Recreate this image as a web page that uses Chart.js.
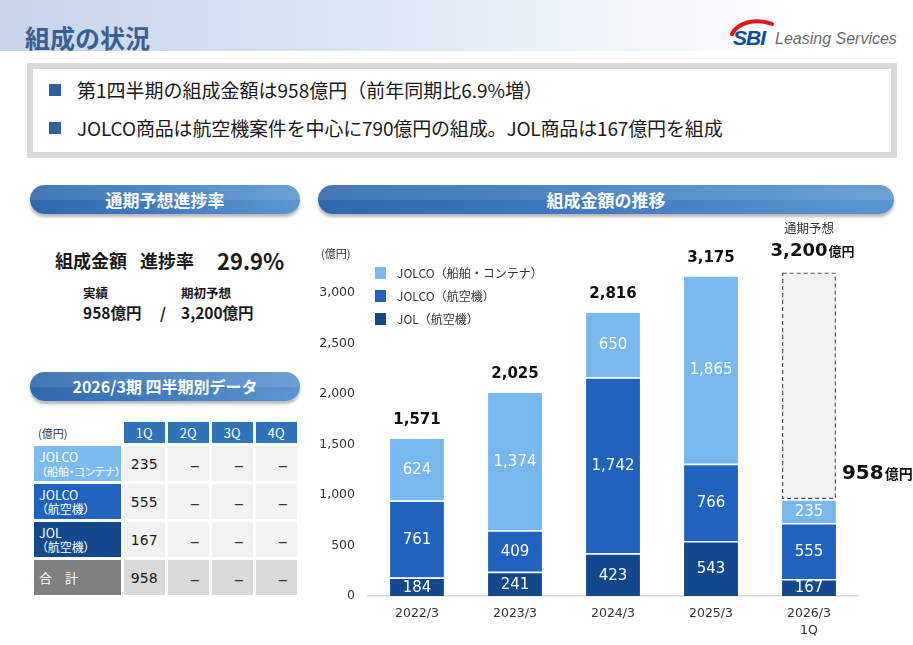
<!DOCTYPE html>
<html lang="ja">
<head>
<meta charset="utf-8">
<script src="https://cdn.jsdelivr.net/npm/chart.js@4.4.1/dist/chart.umd.min.js"></script>
<style>
  html,body{margin:0;padding:0;background:#fff;}
  body{width:913px;height:645px;position:relative;overflow:hidden;font-family:"Noto Sans CJK JP","Noto Sans",sans-serif;color:#1a1a1a;}
  .a{position:absolute;white-space:nowrap;}
  .pill{position:absolute;border-radius:15px;color:#fff;font-weight:bold;text-align:center;
        background:linear-gradient(to right,#2f69ad 0%,#3f7bc0 45%,#5c95d0 100%);
        box-shadow:0 3px 3px rgba(0,0,0,0.28);}
  .pill:before{content:"";position:absolute;left:0;right:0;top:0;height:50%;border-radius:15px 15px 0 0;background:rgba(255,255,255,0.10);}
  table.q{position:absolute;left:31px;top:419px;border-collapse:separate;border-spacing:3px;}
  table.q td{padding:0;font-size:13px;white-space:nowrap;}
  .l1{font-size:12.5px;line-height:15px;}
  .l2{font-size:11px;line-height:14px;font-feature-settings:'palt';}
</style>
</head>
<body>
<!-- header band -->
<div class="a" style="left:0;top:0;width:913px;height:51px;background:linear-gradient(to right,#c6d5e9 0%,#d9e4f1 35%,#eef3f9 65%,#ffffff 88%);"></div>
<div class="a" style="left:25px;top:22px;height:30px;line-height:30px;font-size:25px;font-weight:bold;color:#3b5f93;">組成の状況</div>
<!-- logo -->
<svg class="a" style="left:726px;top:16px;" width="60" height="20" viewBox="0 0 60 20">
  <path d="M6 18 C 12 6, 30 2, 46 8" stroke="#e3141b" stroke-width="4" fill="none" stroke-linecap="round"/>
</svg>
<div class="a" style="left:733px;top:26px;height:24px;line-height:24px;font-family:'Liberation Sans',Arial,sans-serif;font-size:21px;font-weight:bold;font-style:italic;color:#0d4da1;letter-spacing:-1px;">SBI</div>
<div class="a" style="left:775px;top:27px;height:24px;line-height:24px;font-family:'Liberation Sans',Arial,sans-serif;font-size:16px;font-style:italic;color:#6b6b6b;">Leasing Services</div>

<!-- summary box -->
<div class="a" style="left:27px;top:63px;width:870px;height:95px;box-sizing:border-box;border:6px solid #d9d9d9;background:#fff;"></div>
<div class="a" style="left:49px;top:84px;width:12px;height:12px;background:#2f5f9f;"></div>
<div class="a" style="left:77px;top:78px;height:24px;line-height:24px;font-size:19px;">第1四半期の組成金額は958億円（前年同期比6.9%増）</div>
<div class="a" style="left:49px;top:122px;width:12px;height:12px;background:#2f5f9f;"></div>
<div class="a" style="left:77px;top:116px;height:24px;line-height:24px;font-size:19px;letter-spacing:-0.15px;">JOLCO商品は航空機案件を中心に790億円の組成。JOL商品は167億円を組成</div>

<!-- pills -->
<div class="pill" style="left:30px;top:185px;width:270px;height:29px;line-height:29px;font-size:17px;">通期予想進捗率</div>
<div class="pill" style="left:318px;top:185px;width:576px;height:29px;line-height:29px;font-size:17px;">組成金額の推移</div>
<div class="pill" style="left:30px;top:372px;width:270px;height:29px;line-height:29px;font-size:16px;">2026/3期 四半期別データ</div>

<!-- progress block -->
<div class="a" style="left:55px;top:247px;height:26px;line-height:26px;font-size:18px;font-weight:bold;">組成金額</div>
<div class="a" style="left:140px;top:247px;height:26px;line-height:26px;font-size:18px;font-weight:bold;">進捗率</div>
<div class="a" id="rate" style="left:217px;top:246px;height:28px;line-height:28px;font-size:22px;font-weight:bold;"></div>
<div class="a" style="left:83px;top:284px;height:18px;line-height:18px;font-size:12.5px;font-weight:bold;">実績</div>
<div class="a" style="left:181px;top:284px;height:18px;line-height:18px;font-size:12.5px;font-weight:bold;">期初予想</div>
<div class="a" id="act" style="left:83px;top:301px;height:22px;line-height:22px;font-size:15.5px;font-weight:bold;"></div>
<div class="a" style="left:160px;top:301px;height:22px;line-height:22px;font-size:15.5px;font-weight:bold;">/</div>
<div class="a" id="plan" style="left:181px;top:301px;height:22px;line-height:22px;font-size:15.5px;font-weight:bold;"></div>

<!-- quarterly table -->
<table class="q" id="qt"></table>

<!-- chart -->
<canvas id="c" class="a" style="left:300px;top:222px;" width="613" height="423"></canvas>

<!-- chart legend & unit -->
<div class="a" style="left:321px;top:245px;height:16px;line-height:16px;font-size:11px;color:#333;">(億円)</div>
<div id="leg"></div>

<script>
// ---------- data ----------
const categories = ['2022/3', '2023/3', '2024/3', '2025/3', ['2026/3', '1Q']];
const seriesNames = ['JOL（航空機）', 'JOLCO（航空機）', 'JOLCO（船舶・コンテナ）'];
const jol       = [184, 241, 423, 543, 167];
const jolcoAir  = [761, 409, 1742, 766, 555];
const jolcoShip = [624, 1374, 650, 1865, 235];
const totals    = [1571, 2025, 2816, 3175, 958];
const forecastTotal = 3200;
const progressRate = '29.9%';
const yTickValues = [0, 500, 1000, 1500, 2000, 2500, 3000];
const quarterLabels = ['1Q', '2Q', '3Q', '4Q'];

// ---------- styles ----------
const colors = ['#13488c', '#1f63be', '#77b8ef'];
const fmt = v => v.toLocaleString('en-US');
const NUM = '"DejaVu Sans", "Noto Sans CJK JP", sans-serif';
const JP = '"Noto Sans CJK JP", sans-serif';

// ---------- left panel text ----------
document.getElementById('rate').textContent = progressRate;
document.getElementById('act').textContent = fmt(totals[4]) + '億円';
document.getElementById('plan').textContent = fmt(forecastTotal) + '億円';

// table
(function(){
  const t = document.getElementById('qt');
  let h = '<tr><td style="width:81px;height:21px;font-size:11px;color:#333;vertical-align:middle;padding-left:4px;">(億円)</td>';
  quarterLabels.forEach(q => h += '<td style="width:41px;height:21px;background:#2f74bb;color:#fff;text-align:center;font-size:13px;">' + q + '</td>');
  h += '</tr>';
  const rows = [
    {l:'<div class="l1">JOLCO</div><div class="l2">&nbsp;（船舶・コンテナ）</div>', bg:'#7bbcf0', v:jolcoShip[4], cell:'#f2f2f2'},
    {l:'<div class="l1">JOLCO</div><div class="l2" style="font-size:12px;">&nbsp;（航空機）</div>', bg:'#1f63be', v:jolcoAir[4], cell:'#f2f2f2'},
    {l:'<div class="l1">JOL</div><div class="l2" style="font-size:12px;">&nbsp;（航空機）</div>', bg:'#13488c', v:jol[4], cell:'#f2f2f2'},
    {l:'<div class="l1" style="font-size:13px;">合　計</div>', bg:'#808080', v:totals[4], cell:'#d9d9d9'}
  ];
  rows.forEach(r => {
    h += '<tr><td style="height:35px;background:' + r.bg + ';color:#fff;padding-left:5px;">' + r.l + '</td>';
    h += '<td style="background:' + r.cell + ';text-align:center;font-size:14px;font-family:' + NUM.replace(/"/g,"'") + ';">' + fmt(r.v) + '</td>';
    for (let k = 1; k < 4; k++) h += '<td style="background:' + r.cell + ';text-align:right;padding-right:9px;font-size:18px;color:#333;width:32px;">–</td>';
    h += '</tr>';
  });
  t.innerHTML = h;
})();

// legend
(function(){
  const leg = document.getElementById('leg');
  const order = [2, 1, 0];
  const ys = [273, 296, 319];
  let h = '';
  order.forEach((si, k) => {
    h += '<div class="a" style="left:375px;top:' + (ys[k]-6) + 'px;width:11px;height:12px;background:' + colors[si] + ';"></div>';
    h += '<div class="a" style="left:397px;top:' + (ys[k]-9) + 'px;height:18px;line-height:18px;font-size:12px;color:#333;">' + seriesNames[si] + '</div>';
  });
  leg.innerHTML = h;
})();

// ---------- chart ----------
const forecastRemain = categories.map((c, i) => i === categories.length - 1 ? forecastTotal - totals[i] : null);

const labelPlugin = {
  id: 'customLabels',
  afterDatasetsDraw(chart) {
    const ctx = chart.ctx;
    ctx.save();
    // forecast dashed box
    const fe = chart.getDatasetMeta(3).data[4];
    const half = fe.width / 2;
    ctx.setLineDash([4, 3]);
    ctx.strokeStyle = '#555';
    ctx.lineWidth = 1.2;
    ctx.strokeRect(fe.x - half + 0.6, fe.y + 0.6, fe.width - 1.2, fe.base - fe.y - 1.5);
    ctx.setLineDash([]);

    // segment labels
    ctx.textAlign = 'center';
    ctx.textBaseline = 'middle';
    ctx.fillStyle = '#fff';
    ctx.font = '15px ' + NUM;
    [0, 1, 2].forEach(di => {
      chart.getDatasetMeta(di).data.forEach((el, i) => {
        const v = chart.data.datasets[di].data[i];
        if (v == null) return;
        ctx.fillText(fmt(v), el.x, (el.y + el.base) / 2 + 1);
      });
    });
    // totals
    ctx.fillStyle = '#111';
    ctx.font = 'bold 15px ' + NUM;
    const topMeta = chart.getDatasetMeta(2);
    totals.forEach((t, i) => {
      if (i === totals.length - 1) return;
      const el = topMeta.data[i];
      ctx.fillText(fmt(t), el.x, el.y - 17);
    });

    // forecast annotations
    const drawPair = (num, numFont, unitFont, x, y, align) => {
      ctx.font = numFont; const w1 = ctx.measureText(num).width;
      ctx.font = unitFont; const w2 = ctx.measureText('億円').width;
      let sx = align === 'center' ? x - (w1 + w2) / 2 : x;
      ctx.textAlign = 'left';
      ctx.textBaseline = 'alphabetic';
      ctx.font = numFont; ctx.fillText(num, sx, y);
      ctx.font = unitFont; ctx.fillText('億円', sx + w1 + 1, y);
    };
    ctx.fillStyle = '#333';
    ctx.font = '12.5px ' + JP;
    ctx.textAlign = 'center';
    ctx.textBaseline = 'middle';
    ctx.fillText('通期予想', fe.x, fe.y - 44);
    ctx.fillStyle = '#111';
    drawPair(fmt(forecastTotal), 'bold 18px ' + NUM, 'bold 13px ' + JP, fe.x + 3, fe.y - 17, 'center');
    drawPair(fmt(totals[4]), 'bold 20px ' + NUM, 'bold 14px ' + JP, fe.x + half + 6, fe.base - 20, 'left');
    ctx.restore();
  }
};

new Chart(document.getElementById('c'), {
  type: 'bar',
  data: {
    labels: categories,
    datasets: [
      {label: seriesNames[0], data: jol, backgroundColor: colors[0]},
      {label: seriesNames[1], data: jolcoAir, backgroundColor: colors[1]},
      {label: seriesNames[2], data: jolcoShip, backgroundColor: colors[2]},
      {label: '通期予想', data: forecastRemain, backgroundColor: '#f2f2f2', borderWidth: 0}
    ].map((d, i) => Object.assign({
      stack: 's',
      categoryPercentage: 1,
      barPercentage: 0.55,
      borderColor: '#ffffff',
      borderWidth: i < 3 ? {top: 1.5, left: 0, right: 0, bottom: 0} : 0,
      borderSkipped: false
    }, d))
  },
  options: {
    responsive: false,
    animation: false,
    layout: {padding: {left: 0, right: 55, top: 0, bottom: 0}},
    plugins: {legend: {display: false}, tooltip: {enabled: false}},
    scales: {
      x: {
        stacked: true,
        grid: {display: false, drawTicks: false},
        border: {display: true, color: '#d9d9d9', width: 1.5},
        ticks: {color: '#333', font: {family: NUM, size: 12.5, lineHeight: 1.35}, padding: 9, maxRotation: 0, autoSkip: false},
        afterFit(s) { s.height = 49; s.paddingLeft = 0; s.paddingRight = 0; }
      },
      y: {
        stacked: true,
        min: 0,
        max: 3700,
        grid: {display: false, drawTicks: false},
        border: {display: false},
        afterBuildTicks(s) { s.ticks = yTickValues.map(v => ({value: v})); },
        ticks: {color: '#333', font: {family: NUM, size: 12.5}, padding: 13, callback: v => fmt(v)},
        afterFit(s) { s.width = 68; s.paddingTop = 0; s.paddingBottom = 0; }
      }
    }
  },
  plugins: [labelPlugin]
});
</script>
</body>
</html>
